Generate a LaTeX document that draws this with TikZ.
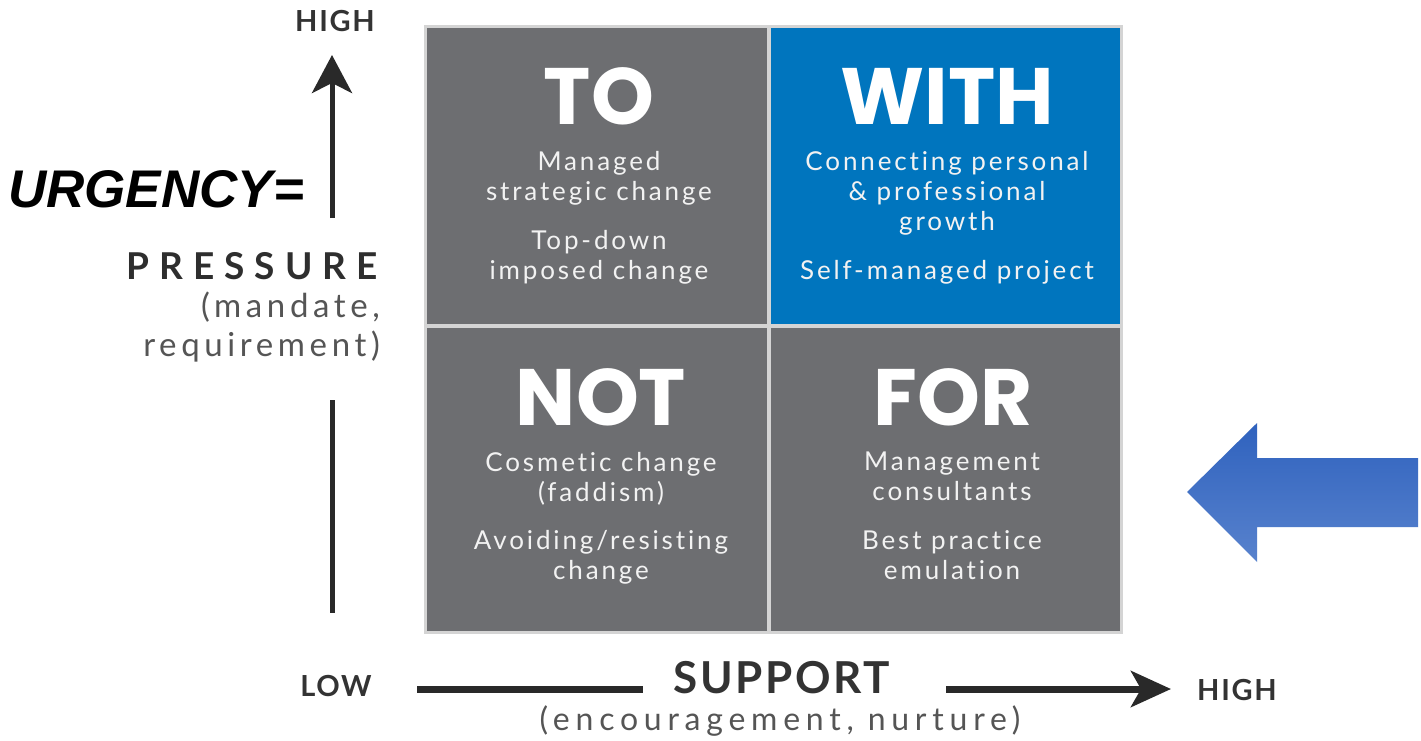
\documentclass[tikz,border=0pt]{standalone}
\usepackage{fontspec}
\setmainfont{Lato}
\newfontfamily\bodyf[LetterSpace=11,Ligatures=NoCommon]{Lato}
\newfontfamily\subf[LetterSpace=14,Ligatures=NoCommon]{Lato}
\newfontfamily\encf[LetterSpace=18,Ligatures=NoCommon]{Lato}
\newfontfamily\titlef{Poppins}
\newfontfamily\axisf[LetterSpace=6]{Lato}
\newfontfamily\urgf{Liberation Sans}
\usetikzlibrary{arrows.meta}
\definecolor{cellgray}{HTML}{6D6E71}
\definecolor{cellblue}{HTML}{0075BE}
\definecolor{divgray}{HTML}{D4D4D4}
\definecolor{celltext}{HTML}{F2F2F2}
\definecolor{axtext}{HTML}{333333}
\definecolor{subtext}{HTML}{555555}
\definecolor{arrowtop}{HTML}{2F62BE}
\definecolor{arrowbot}{HTML}{5882CD}
\tikzset{
  title/.style={text=white,font=\titlef\bfseries\fontsize{80}{80}\selectfont,inner sep=0pt,anchor=base},
  body/.style={text=celltext,font=\bodyf\fontsize{26}{30}\selectfont,align=center,inner sep=0pt,anchor=north},
  axlab/.style={text=axtext,font=\axisf\bfseries\fontsize{29}{29}\selectfont,inner sep=0pt},
  axline/.style={line width=5pt,draw=axtext!80!black},
  axarrow/.style={axline,-{Stealth[length=38pt,width=40pt,inset=10pt]}},
}
\begin{document}
\begin{tikzpicture}[x=1pt,y=-1pt]
\useasboundingbox (0,0) rectangle (1421,740);
\fill[white] (0,0) rectangle (1421,740);
% grid frame
\fill[divgray] (424,25) rectangle (1123,634);
\fill[cellgray] (427,28) rectangle (767,324);
\fill[cellblue] (771,28) rectangle (1120,324);
\fill[cellgray] (427,328) rectangle (767,631);
\fill[cellgray] (771,328) rectangle (1120,631);
% titles
\node[title] (tTO) at (599,124) {TO};
\node[title] (tWITH) at (947,124) {WITH};
\node[title] (tNOT) at (601,425) {NOT};
\node[title] (tFOR) at (953,425) {FOR};
% body texts
\node[body] (bTO1) at (599,151) {Managed\\strategic change};
\node[body] (bTO2) at (599,230) {Top-down\\imposed change};
\node[body] (bW1) at (947,151) {Connecting personal\\\& professional\\growth};
\node[body] (bW2) at (947,260) {Self-managed project};
\node[body] (bN1) at (601,452) {Cosmetic change\\(faddism)};
\node[body] (bN2) at (601,530) {Avoiding/resisting\\change};
\node[body] (bF1) at (952,452) {Management\\consultants};
\node[body] (bF2) at (952,530) {Best practice\\emulation};
% vertical axis
\node[axlab] (vhigh) at (335,21) {HIGH};
\coordinate (vA) at (332,218);
\coordinate (vB) at (332,55);
\coordinate (vC) at (332,400);
\coordinate (vD) at (332,613);
\draw[axarrow] (vA) -- (vB);
\draw[axline] (vC) -- (vD);
\node[inner sep=0pt,anchor=west,font=\urgf\bfseries\itshape\fontsize{53}{53}\selectfont] (urg) at (8,189) {URGENCY=};
\node[inner sep=0pt,anchor=base east,text=axtext!90!black,font=\axisf\bfseries\fontsize{37}{37}\selectfont] (press) at (378,279) {P\kern10pt R\kern10pt E\kern10pt S\kern10pt S\kern10pt U\kern10pt R\kern10pt E};
\node[inner sep=0pt,anchor=base east,text=subtext,font=\subf\fontsize{33}{33}\selectfont] (mand) at (380,317) {(mandate,};
\node[inner sep=0pt,anchor=base east,text=subtext,font=\subf\fontsize{33}{33}\selectfont] (req) at (380,356) {requirement)};
% horizontal axis
\node[axlab] (hlow) at (336,686) {LOW};
\coordinate (hA) at (417,689);
\coordinate (hB) at (643,689);
\coordinate (hC) at (946,689);
\coordinate (hD) at (1171,689);
\draw[line width=7pt,draw=axtext!80!black] (hA) -- (hB);
\draw[line width=7pt,draw=axtext!80!black,-{Stealth[length=40pt,width=36pt,inset=10pt]}] (hC) -- (hD);
\node[inner sep=0pt,anchor=base,text=axtext,font=\axisf\bfseries\fontsize{44}{44}\selectfont] (supp) at (782,693) {SUPPORT};
\node[inner sep=0pt,anchor=base,text=subtext,font=\encf\fontsize{32}{32}\selectfont] (enc) at (780,730) {(encouragement, nurture)};
\node[axlab] (hhigh) at (1237,690) {HIGH};
% blue arrow
\shade[top color=arrowtop,bottom color=arrowbot] (1187,492) -- (1257,423) -- (1257,458) -- (1418,458) -- (1418,527) -- (1257,527) -- (1257,562) -- cycle;
\end{tikzpicture}
\end{document}
